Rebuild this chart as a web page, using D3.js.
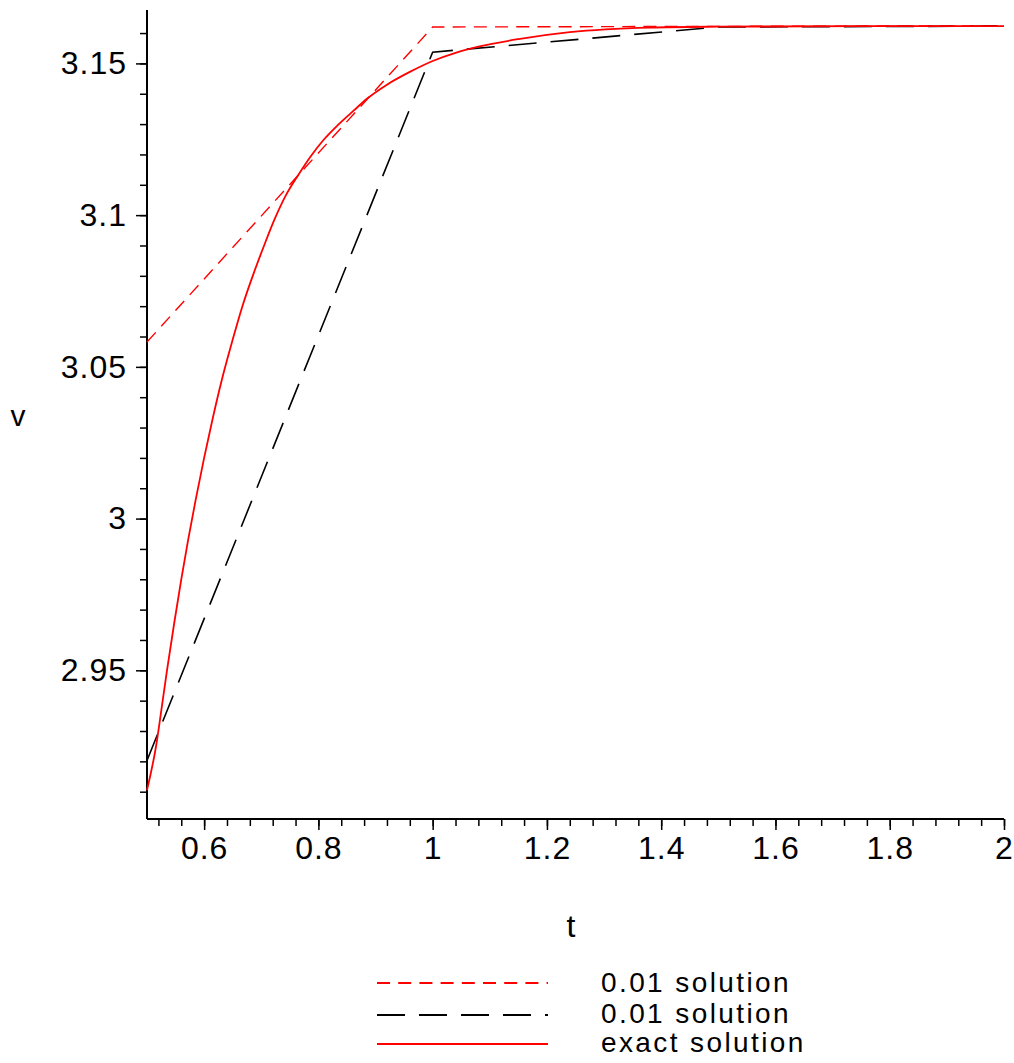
<!DOCTYPE html>
<html>
<head>
<meta charset="utf-8">
<script src="https://cdn.jsdelivr.net/npm/d3@7"></script>
<style>
  html, body { margin: 0; padding: 0; background: #fff; }
  svg text { font-family: "Liberation Sans", Arial, sans-serif; fill: #000; }
</style>
</head>
<body>
<svg id="chart" width="1014" height="1063"></svg>
<script>
// ---- data ----
const redDashT = [0.5, 1.0, 1.5, 2.0];
const redDashV = [3.0582, 3.1620, 3.1622, 3.1624];

const blackDashT = [0.5, 1.0, 1.5, 2.0];
const blackDashV = [2.9203, 3.1537, 3.1620, 3.1623];

const exactT = [0.500, 0.516, 0.525, 0.535, 0.548, 0.560, 0.572, 0.585, 0.600, 0.615,
                0.632, 0.650, 0.667, 0.688, 0.705, 0.723, 0.743, 0.764, 0.787, 0.810,
                0.833, 0.862, 0.886, 0.920, 0.960, 1.000, 1.040, 1.080, 1.150, 1.240,
                1.380, 1.500, 1.750, 2.000];
const exactV = [2.9105, 2.9252, 2.9367, 2.9500, 2.9660, 2.9800, 2.9930, 3.0060, 3.0200, 3.0330,
                3.0465, 3.0590, 3.0700, 3.0815, 3.0900, 3.0985, 3.1065, 3.1130, 3.1195, 3.1250,
                3.1295, 3.1345, 3.1385, 3.1430, 3.1472, 3.1508, 3.1535, 3.1555, 3.1580, 3.1603,
                3.1618, 3.1621, 3.1623, 3.1623];

const xMajorTicks = [0.6, 0.8, 1.0, 1.2, 1.4, 1.6, 1.8, 2.0];
const xTickLabels = ["0.6", "0.8", "1", "1.2", "1.4", "1.6", "1.8", "2"];
const yMajorTicks = [2.95, 3.0, 3.05, 3.1, 3.15];
const yTickLabels = ["2.95", "3", "3.05", "3.1", "3.15"];
const xMinorTicks = d3.range(13, 51).map(i => +(i * 0.04).toFixed(2));
const yMinorTicks = d3.range(291, 317).map(i => +(i * 0.01).toFixed(2));

const legendLabels = ["0.01 solution", "0.01 solution", "exact solution"];

// ---- layout ----
const svg = d3.select("#chart");
const x = d3.scaleLinear().domain([0.5, 2.0]).range([147, 1004]);
const y = d3.scaleLinear().domain([2.901, 3.1676]).range([819, 10]);
const FS = 32;

// axes
const gx = svg.append("g").attr("transform", "translate(0,819)");
gx.call(d3.axisBottom(x).tickValues(xMinorTicks).tickSize(7).tickFormat(""))
  .call(g => g.select(".domain").remove());
gx.append("g").call(d3.axisBottom(x).tickValues(xMajorTicks).tickSize(11)
    .tickFormat((d, i) => xTickLabels[i]).tickPadding(6))
  .call(g => g.select(".domain").remove())
  .call(g => g.selectAll("text").attr("font-size", FS).attr("letter-spacing", 1)
      .style("font-family", "'Liberation Sans', Arial, sans-serif").attr("fill", "#000"));

const gy = svg.append("g").attr("transform", "translate(147,0)");
gy.call(d3.axisLeft(y).tickValues(yMinorTicks).tickSize(7).tickFormat(""))
  .call(g => g.select(".domain").remove());
gy.append("g").call(d3.axisLeft(y).tickValues(yMajorTicks).tickSize(11)
    .tickFormat((d, i) => yTickLabels[i]).tickPadding(9))
  .call(g => g.select(".domain").remove())
  .call(g => g.selectAll("text").attr("font-size", FS).attr("letter-spacing", 1)
      .style("font-family", "'Liberation Sans', Arial, sans-serif").attr("fill", "#000"));

svg.selectAll(".tick line").attr("stroke", "#000").attr("stroke-width", 1.5);

// axis lines
svg.append("line").attr("x1", x(0.5)).attr("x2", x(2.0)).attr("y1", y(2.901)).attr("y2", y(2.901))
  .attr("stroke", "#000").attr("stroke-width", 2);
svg.append("line").attr("x1", x(0.5)).attr("x2", x(0.5)).attr("y1", y(2.901)).attr("y2", y(3.1676))
  .attr("stroke", "#000").attr("stroke-width", 2);

// series
const series = [
  { t: redDashT, v: redDashV, color: "#ff0000", dash: "13,8.2", width: 1.4, curve: d3.curveLinear },
  { t: blackDashT, v: blackDashV, color: "#000000", dash: "28,14", width: 1.6, curve: d3.curveLinear },
  { t: exactT, v: exactV, color: "#ff0000", dash: null, width: 1.8, curve: d3.curveMonotoneX }
];

series.forEach(s => {
  const line = d3.line().x(d => x(d[0])).y(d => y(d[1])).curve(s.curve);
  const pts = s.t.map((t, i) => [t, s.v[i]]);
  svg.append("path").datum(pts).attr("d", line)
    .attr("fill", "none").attr("stroke", s.color).attr("stroke-width", s.width)
    .attr("stroke-dasharray", s.dash);
});

// axis titles
svg.append("text").attr("x", 571).attr("y", 937).attr("text-anchor", "middle")
  .attr("font-size", FS).text("t");
svg.append("text").attr("x", 18).attr("y", 426).attr("text-anchor", "middle")
  .attr("font-size", FS - 2).text("v");

// legend
const legY = [983, 1015, 1044];
const legBase = [992, 1023, 1052];
series.forEach((s, i) => {
  svg.append("line").attr("x1", 377).attr("x2", 548).attr("y1", legY[i]).attr("y2", legY[i])
    .attr("stroke", s.color).attr("stroke-width", 2).attr("stroke-dasharray", s.dash);
  svg.append("text").attr("x", 601).attr("y", legBase[i]).attr("font-size", 28)
    .attr("letter-spacing", 2.4).text(legendLabels[i]);
});
</script>
</body>
</html>
